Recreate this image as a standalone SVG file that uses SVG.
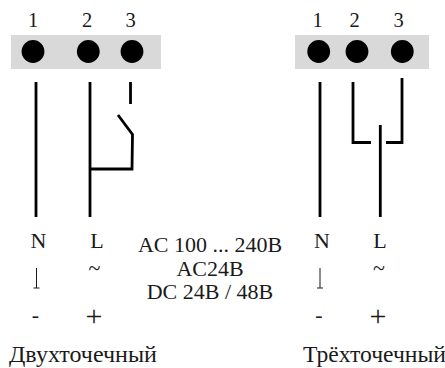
<svg xmlns="http://www.w3.org/2000/svg" width="445" height="368" viewBox="0 0 445 368">
<style>
text{font-family:"Liberation Serif","Times New Roman",serif;font-size:22px;fill:#1a1a1a;text-anchor:middle}
.n{font-size:20.5px}
.c{font-size:22px}
.p{font-size:30px}
.t{font-size:24px}
.s{font-size:24px;text-anchor:start}
.band{fill:#d9d9d9}
.pin{fill:#000}
.w{fill:none;stroke:#000;stroke-width:2.8}
.g{fill:none;stroke:#1a1a1a;stroke-width:1}
</style>
<rect width="445" height="368" fill="#fff"/>
<g id="terminal-left">
<rect class="band" x="11" y="35" width="150" height="34"/>
<circle class="pin" cx="33" cy="51.5" r="11.4"/>
<circle class="pin" cx="88.3" cy="51.5" r="11.4"/>
<circle class="pin" cx="132" cy="51.5" r="11.4"/>
<text class="n" x="33" y="27">1</text>
<text class="n" x="87" y="27">2</text>
<text class="n" x="130.500" y="27">3</text>
</g>
<g id="terminal-right">
<rect class="band" x="295" y="35" width="134" height="34"/>
<circle class="pin" cx="318.700" cy="51.500" r="11.400"/>
<circle class="pin" cx="357" cy="51.500" r="11.400"/>
<circle class="pin" cx="402.300" cy="51.500" r="11.400"/>
<text class="n" x="317.500" y="27">1</text>
<text class="n" x="354.500" y="27">2</text>
<text class="n" x="398.500" y="27">3</text>
</g>
<g id="connectors">
<path class="w" d="M36 82V217"/>
<path class="w" d="M90 82V217"/>
<path class="w" d="M130.500 82V104"/>
<path class="w" d="M118 115L132.500 134.500L132 169H90"/>
<path class="w" d="M320 82V217"/>
<path class="w" d="M353 82V142.500H371"/>
<path class="w" d="M386 142.500H402V78"/>
<path class="w" d="M380.300 125V217"/>
</g>
<g id="labels-left">
<text x="38.500" y="248">N</text>
<text x="97" y="248">L</text>
<text x="94.500" y="275">~</text>
<path class="g" d="M36.500 268V288M33.500 288H39.500"/>
<text x="35.500" y="322">-</text>
<text class="p" x="94" y="326">+</text>
<text class="s" x="9" y="362">Двухточечный</text>
</g>
<g id="labels-right">
<text x="322" y="248">N</text>
<text x="380" y="248">L</text>
<text x="379" y="275">~</text>
<path class="g" d="M320 268V288M317 288H323"/>
<text x="319" y="322">-</text>
<text class="p" x="378" y="326">+</text>
<text class="s" x="303" y="362" style="font-size:23.6px">Трёхточечный</text>
</g>
<g id="labels-center">
<text class="c" x="210" y="252">AC 100 ... 240В</text>
<text class="c" x="210" y="276">AC24В</text>
<text class="c" x="210" y="299">DC 24В / 48В</text>
</g>
</svg>
